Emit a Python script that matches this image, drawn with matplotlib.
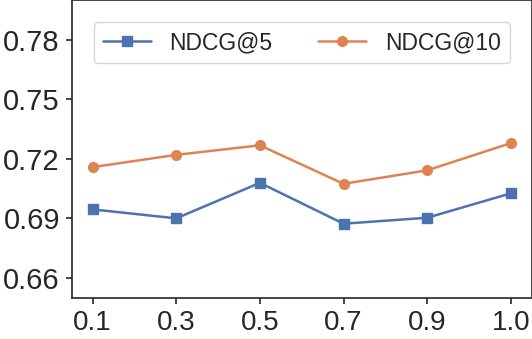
import matplotlib
matplotlib.use("Agg")
import matplotlib.pyplot as plt
import seaborn as sns

# values
x_labels = ["0.1", "0.3", "0.5", "0.7", "0.9", "1.0"]
ndcg5 = [0.6945, 0.6900, 0.7079, 0.6873, 0.6903, 0.7026]
ndcg10 = [0.7158, 0.7220, 0.7268, 0.7074, 0.7142, 0.7279]
y_ticks = [0.66, 0.69, 0.72, 0.75, 0.78]

sns.set_theme(style="ticks")
plt.rcParams['font.family'] = ['Liberation Sans', 'DejaVu Sans']

fig = plt.figure(figsize=(5.32, 3.39), dpi=100)
ax = fig.add_axes([0.1348, 0.1218, 0.8647, 0.878])

pal = sns.color_palette("deep")
xs = list(range(len(x_labels)))
ax.plot(xs, ndcg5, marker="s", markersize=7, linewidth=1.8, color=pal[0], label="NDCG@5")
ax.plot(xs, ndcg10, marker="o", markersize=7, linewidth=1.8, color=pal[1], label="NDCG@10")

ax.set_xlim(-0.25, 5.25)
ax.set_ylim(0.65, 0.80)
ax.set_xticks(xs)
ax.set_xticklabels(x_labels)
ax.set_yticks(y_ticks)
ax.set_yticklabels([f"{v:.2f}" for v in y_ticks])
ax.tick_params(axis="x", labelsize=20, length=4.5, width=1.2, pad=4)
ax.tick_params(axis="y", labelsize=21, length=4.5, width=1.2, pad=4)
for s in ax.spines.values():
    s.set_linewidth(1.2)

ax.legend(loc="upper center", ncol=2, fontsize=16.5, frameon=True,
          bbox_to_anchor=(0.5, 0.965), columnspacing=2.0, handlelength=2.1,
          handletextpad=0.8)

fig.savefig("out.png", dpi=100)
